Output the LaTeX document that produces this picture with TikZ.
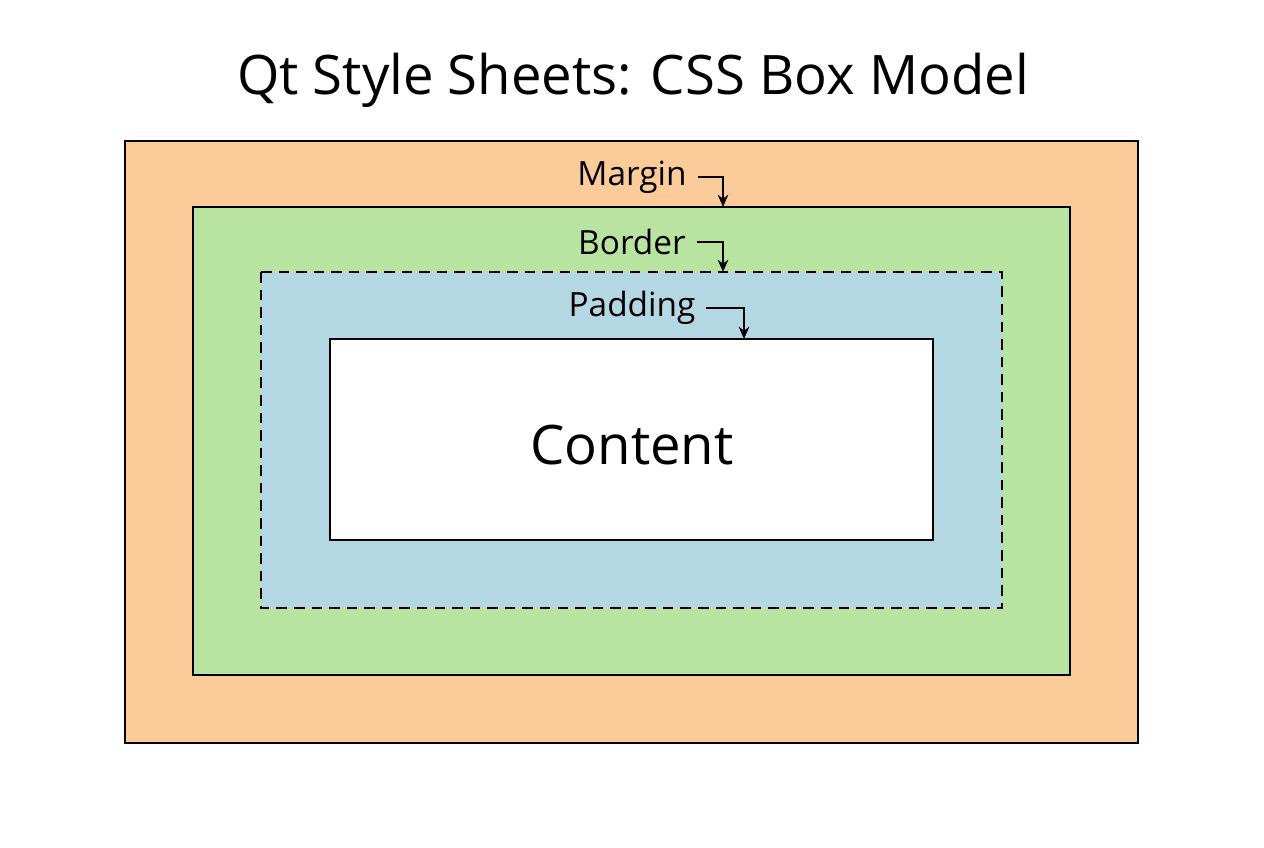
\documentclass[tikz,border=0pt]{standalone}
\usepackage{fontspec}
\setmainfont{Open Sans}
\usetikzlibrary{positioning,arrows.meta}
\definecolor{marginorange}{HTML}{FCCB9A}
\definecolor{bordergreen}{HTML}{B9E3A0}
\definecolor{paddingblue}{HTML}{B3D7E3}
\tikzset{
    layer/.style={draw=black, line width=1pt},
    lbl/.style={font=\fontsize{19}{22}\selectfont, inner sep=0pt},
    pointer/.style={-{Stealth[length=7pt,width=6pt]}, line width=0.9pt}
}
\begin{document}
\begin{tikzpicture}[x=0.02cm, y=-0.02cm]
        \useasboundingbox (0,0) rectangle (1264,848);
        % Title
        \node (title) at (633,80) {\fontsize{31}{36}\selectfont Qt Style Sheets: CSS Box Model};
        % Nested boxes
        \draw[layer, fill=marginorange] (125,141) rectangle (1138,743);
        \draw[layer, fill=bordergreen] (193,207) rectangle (1070,675);
        \draw[layer, fill=paddingblue, dashed, dash pattern=on 6pt off 4pt] (261,272) rectangle (1002,608);
        \draw[layer, fill=white] (330,339) rectangle (933,540);
        \node (content) at (632,445) {\fontsize{31}{36}\selectfont Content};
        % Labels with pointers
        \node[lbl] (margin) at (632,177) {Margin};
        \node[lbl] (border) at (632,242) {Border};
        \node[lbl] (padding) at (632,308) {Padding};
        \coordinate (mEnd) at (723,207);
        \coordinate (bEnd) at (723,272);
        \coordinate (pEnd) at (744,339);
        \draw[pointer] ([xshift=6pt]margin.east) -| (mEnd);
        \draw[pointer] ([xshift=6pt]border.east) -| (bEnd);
        \draw[pointer] ([xshift=6pt]padding.east) -| (pEnd);
    \end{tikzpicture}
\end{document}
